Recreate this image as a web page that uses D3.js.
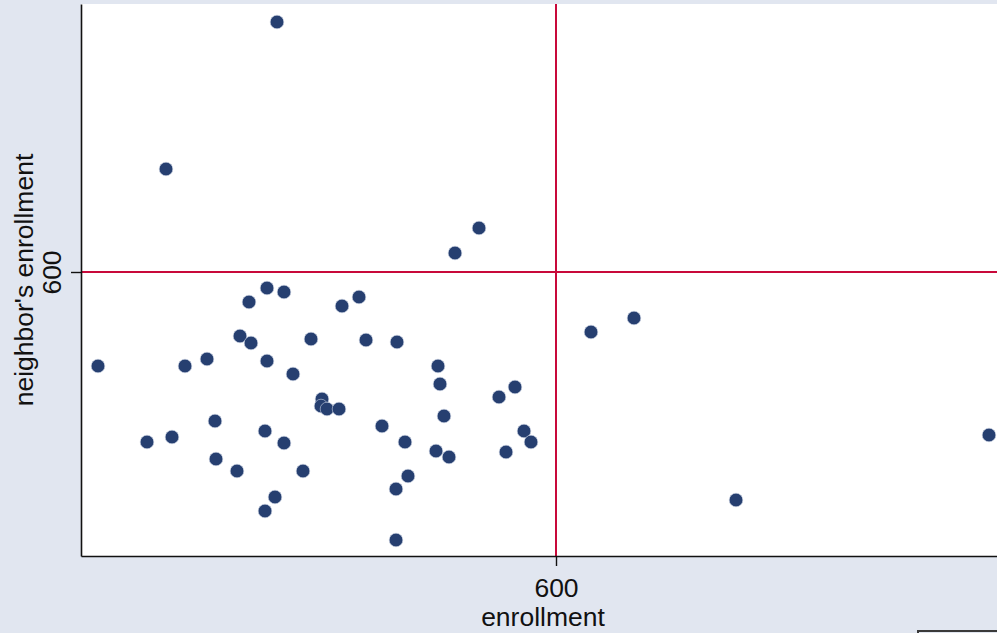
<!DOCTYPE html>
<html>
<head>
<meta charset="utf-8">
<script src="https://cdn.jsdelivr.net/npm/d3@7"></script>
<style>
  body { margin: 0; background: #e1e6f0; }
  svg { display: block; }
  text { font-family: "Liberation Sans", Arial, sans-serif; fill: #111; }
</style>
</head>
<body>
<div id="chart"></div>
<script>
// enrollment vs neighbor's enrollment
const enrollment = [321, 210, 523, 499, 635, 678, 1033, 780, 142, 229, 251, 293, 311, 328, 284, 295,
    311, 337, 355, 259, 191, 216, 309, 328, 260, 281, 347, 319, 309, 386, 403, 410,
    441, 482, 484, 543, 559, 366, 365, 371, 383, 488, 426, 449, 480, 493, 550, 568,
    575, 452, 440, 440];
const neighbor = [850, 703, 644, 619, 540, 554, 437, 372, 506, 506, 513, 570, 584, 580, 536, 529,
    511, 498, 533, 451, 430, 435, 441, 429, 413, 401, 401, 375, 361, 566, 575, 532,
    530, 506, 488, 475, 485, 473, 466, 463, 463, 456, 446, 430, 421, 415, 420, 441,
    430, 396, 383, 332];
const xTicks = [600];
const yTicks = [600];
const xMean = 600, yMean = 600;

const width = 997, height = 633;
const margin = {left: 81, right: 0, top: 4, bottom: 77};
const fontSize = 26.5;

const x = d3.scaleLinear().domain([125, 1041]).range([margin.left, width - margin.right]);
const y = d3.scaleLinear().domain([316, 868]).range([height - margin.bottom, margin.top]);

const svg = d3.select('#chart').append('svg').attr('width', width).attr('height', height);

svg.append('rect').attr('width', width).attr('height', height).attr('fill', '#e1e6f0');
svg.append('rect')
    .attr('x', margin.left).attr('y', margin.top)
    .attr('width', width - margin.left + 10).attr('height', height - margin.bottom - margin.top)
    .attr('fill', '#fff');

// reference lines at 600
svg.append('line')
    .attr('x1', x(xMean)).attr('x2', x(xMean))
    .attr('y1', margin.top).attr('y2', height - margin.bottom)
    .attr('stroke', '#c8093a').attr('stroke-width', 2);
svg.append('line')
    .attr('x1', margin.left).attr('x2', width)
    .attr('y1', y(yMean)).attr('y2', y(yMean))
    .attr('stroke', '#c8093a').attr('stroke-width', 2);

svg.selectAll('circle.pt')
    .data(enrollment)
    .enter().append('circle')
    .attr('class', 'pt')
    .attr('cx', (d) => x(d))
    .attr('cy', (d, i) => y(neighbor[i]))
    .attr('r', 6.8)
    .attr('fill', '#263f70')
    .attr('stroke', '#c9d2e3')
    .attr('stroke-width', 0.6);

const xAxis = svg.append('g')
    .attr('transform', 'translate(0,' + (height - margin.bottom) + ')')
    .call(d3.axisBottom(x).tickValues(xTicks).tickSize(10).tickSizeOuter(0));
const yAxis = svg.append('g')
    .attr('transform', 'translate(' + margin.left + ',0)')
    .call(d3.axisLeft(y).tickValues(yTicks).tickSize(10).tickSizeOuter(0));

[xAxis, yAxis].forEach((g) => {
    g.select('.domain').attr('stroke', '#111').attr('stroke-width', 1.6);
    g.selectAll('.tick line').attr('stroke', '#111').attr('stroke-width', 1.4);
    g.selectAll('.tick text').attr('font-size', fontSize).attr('fill', '#111')
        .attr('font-family', '"Liberation Sans", Arial, sans-serif');
});
xAxis.selectAll('.tick text').attr('y', 41).attr('dy', 0);
// the y tick label reads vertically
yAxis.selectAll('.tick text')
    .attr('transform', 'rotate(-90)')
    .attr('x', 0).attr('y', -20).attr('dy', 0)
    .attr('text-anchor', 'middle');

svg.append('text')
    .attr('x', 543).attr('y', 626)
    .attr('text-anchor', 'middle').attr('font-size', fontSize)
    .text('enrollment');
svg.append('text')
    .attr('transform', 'translate(33,280) rotate(-90)')
    .attr('text-anchor', 'middle').attr('font-size', fontSize)
    .text("neighbor's enrollment");

// edge of the legend box below
svg.append('rect')
    .attr('x', 918).attr('y', 631).attr('width', 100).attr('height', 40)
    .attr('fill', 'none').attr('stroke', '#3a3a3a').attr('stroke-width', 2);
</script>
</body>
</html>
